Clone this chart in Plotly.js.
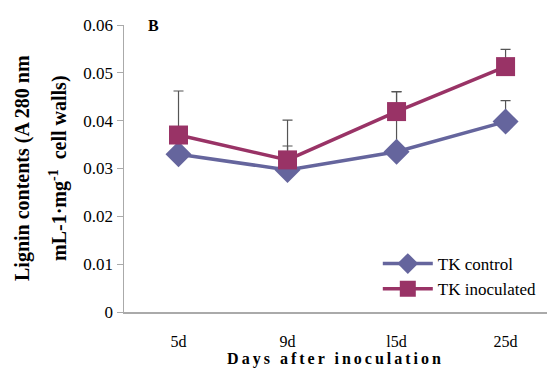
<!DOCTYPE html>
<html><head><meta charset="utf-8">
<script src="https://cdn.plot.ly/plotly-3.0.1.min.js"></script>
<style>
html,body{margin:0;padding:0;background:#fff}
#chart .xtitle{letter-spacing:3px}
</style>
</head><body>
<div id="chart" style="width:547px;height:368px"></div>
<script>
const categories = ["5d", "9d", "l5d", "25d"];
const controlValues = [0.0330, 0.0297, 0.0335, 0.0398];
const controlErrors = [0.0030, 0.0050, 0.0125, 0.0044];
const inoculatedValues = [0.0370, 0.0318, 0.0419, 0.0513];
const inoculatedErrors = [0.0092, 0.0083, 0.0042, 0.0036];
const seriesNames = ["TK control", "TK inoculated"];
const yTickVals = [0, 0.01, 0.02, 0.03, 0.04, 0.05, 0.06];
const yTickText = ["0", "0.01", "0.02", "0.03", "0.04", "0.05", "0.06"];

const serif = "Times New Roman";
const errStyle = v => ({type: "data", array: v, symmetric: false, arrayminus: v.map(() => 0), color: "#555555", thickness: 1.2, width: 5});

const traces = [
  {x: categories, y: controlValues, name: seriesNames[0], type: "scatter", mode: "lines+markers",
   line: {color: "#65659d", width: 3.5}, marker: {symbol: "diamond", size: 20, color: "#65659d"},
   error_y: errStyle(controlErrors)},
  {x: categories, y: inoculatedValues, name: seriesNames[1], type: "scatter", mode: "lines+markers",
   line: {color: "#993366", width: 3.5}, marker: {symbol: "square", size: 19, color: "#993366"},
   error_y: errStyle(inoculatedErrors)}
];

const layout = {
  width: 547, height: 368,
  margin: {l: 124, r: 0, t: 25, b: 56},
  paper_bgcolor: "#fff", plot_bgcolor: "#fff",
  font: {family: serif, color: "#000", size: 16},
  showlegend: true,
  legend: {x: 0.6, y: 0.23, xanchor: "left", yanchor: "top", font: {family: serif, size: 17},
           bgcolor: "rgba(0,0,0,0)", itemwidth: 50, tracegroupgap: 0},
  xaxis: {type: "category", range: [-0.5, 3.38], showline: true, linecolor: "#aaaaaa", linewidth: 1.5,
          ticks: "", showgrid: false, zeroline: false, tickfont: {family: serif, size: 16},
          ticklabelstandoff: 14,
          title: {text: "<b>Days after inoculation</b>", font: {family: serif, size: 16}, standoff: 4}},
  yaxis: {range: [0, 0.06], showline: true, linecolor: "#aaaaaa", linewidth: 1.5,
          ticks: "outside", ticklen: 6, tickcolor: "#aaaaaa", showgrid: false, zeroline: false,
          tickfont: {family: serif, size: 17},
          tickvals: yTickVals, ticktext: yTickText},
  annotations: [
    {text: "<b>B</b>", x: 0.07, y: 1, xref: "paper", yref: "paper", xanchor: "center", yanchor: "middle",
     showarrow: false, font: {family: serif, size: 16}},
    {text: "<b>Lignin contents (A 280 nm</b>", x: 0, y: 0.5, xref: "paper", yref: "paper", textangle: -90,
     showarrow: false, font: {family: serif, size: 20}, xanchor: "center", yanchor: "middle"},
    {text: "<b>mL-1·mg<sup>-1</sup>  cell walls)</b>", x: 0, y: 0.5, xref: "paper", yref: "paper", textangle: -90,
     showarrow: false, font: {family: serif, size: 20}, xanchor: "center", yanchor: "middle"}
  ]
};
// convert pixel positions of rotated title lines to paper coords
layout.annotations[1].x = (22 - 124) / (547 - 124);
layout.annotations[2].x = (58 - 124) / (547 - 124);
layout.annotations[1].y = (312 - 168) / 287;
layout.annotations[2].y = (312 - 168) / 287;

Plotly.newPlot("chart", traces, layout, {displayModeBar: false, staticPlot: true});
</script>
</body></html>
